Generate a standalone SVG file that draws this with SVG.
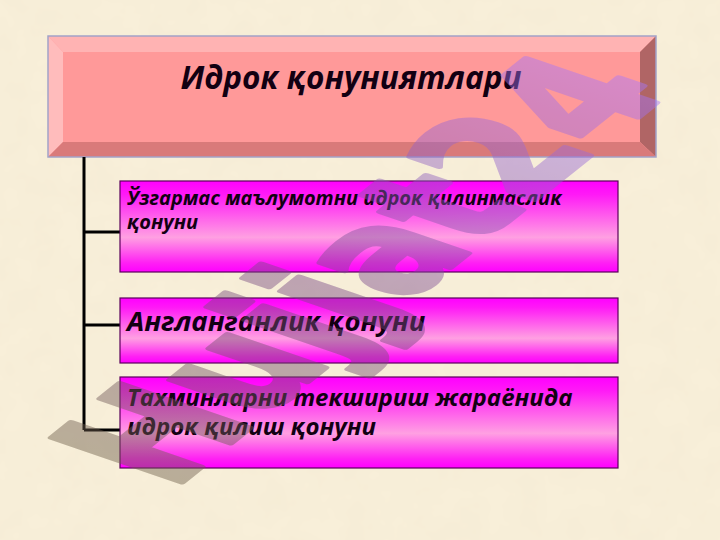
<svg xmlns="http://www.w3.org/2000/svg" width="720" height="540" viewBox="0 0 720 540">
  <defs>
    <filter id="paper" x="0" y="0" width="100%" height="100%">
      <feTurbulence type="fractalNoise" baseFrequency="0.035" numOctaves="3" seed="7"/>
      <feColorMatrix type="matrix" values="0 0 0 0 0.82  0 0 0 0 0.74  0 0 0 0 0.58  0 0 0 0.25 -0.06"/>
    </filter>
    <linearGradient id="mag" x1="0" y1="0" x2="0" y2="1">
      <stop offset="0" stop-color="#ff00ff"/>
      <stop offset="0.15" stop-color="#ff1af6"/>
      <stop offset="0.62" stop-color="#ffa0e2"/>
      <stop offset="0.9" stop-color="#ff20f4"/>
      <stop offset="1" stop-color="#ff00ff"/>
    </linearGradient>
    <linearGradient id="wm" x1="0" y1="0" x2="1" y2="0">
      <stop offset="0" stop-color="#6e6048"/>
      <stop offset="0.45" stop-color="#7a4a86"/>
      <stop offset="1" stop-color="#a878ff"/>
    </linearGradient>
    <style>
      .box { fill: url(#mag); stroke: #5a005a; stroke-width: 1.2; }
      .txt { font-family: "Open Sans", "Noto Sans", "DejaVu Sans", sans-serif; font-weight: bold; font-style: italic; fill: #120012; }
      .conn { stroke: #000; stroke-width: 3; fill: none; }
    </style>
  </defs>

  <rect x="0" y="0" width="720" height="540" fill="#f8efd9"/>
  <rect x="0" y="0" width="720" height="540" filter="url(#paper)"/>

  <g id="title">
    <rect x="48" y="36" width="608" height="121" fill="#ff9999"/>
    <polygon points="48,36 656,36 640,52 63,52" fill="#ffb3b3"/>
    <polygon points="48,36 63,52 63,142 48,157" fill="#ffbcbc"/>
    <polygon points="656,36 656,157 640,142 640,52" fill="#b06565"/>
    <polygon points="48,157 63,142 640,142 656,157" fill="#d97a7a"/>
    <rect x="63" y="52" width="577" height="90" fill="#ff9999"/>
    <rect x="48" y="36" width="608" height="121" fill="none" stroke="#a3a3c8" stroke-width="1.5"/>
    <text class="txt" x="351" y="89" font-size="31.5" text-anchor="middle">Идрок қонуниятлари</text>
  </g>

  <g id="connectors">
    <path class="conn" d="M84,157 V430 M84,232 H120 M84,325 H120 M84,430 H120"/>
  </g>

  <g id="node1">
    <rect class="box" x="120" y="181" width="498" height="91"/>
    <text class="txt" x="127" y="205" font-size="20">Ўзгармас маълумотни идрок қилинмаслик</text>
    <text class="txt" x="127" y="229" font-size="20">қонуни</text>
  </g>

  <g id="node2">
    <rect class="box" x="120" y="298" width="498" height="65"/>
    <text class="txt" x="127" y="331" font-size="27.5">Англанганлик қонуни</text>
  </g>

  <g id="node3">
    <rect class="box" x="120" y="377" width="498" height="91"/>
    <text class="txt" x="127" y="406" font-size="24">Тахминларни текшириш жараёнида</text>
    <text class="txt" x="127" y="435" font-size="24">идрок қилиш қонуни</text>
  </g>

  <g id="watermark" opacity="0.45">
    <text x="0" y="0" font-family="DejaVu Sans, sans-serif" font-weight="bold" font-size="100" fill="url(#wm)" stroke="url(#wm)" stroke-width="4" stroke-linejoin="round" transform="matrix(1.046,-0.837,1.78,0.61,172,490)">Hujjat24</text>
  </g>
</svg>
